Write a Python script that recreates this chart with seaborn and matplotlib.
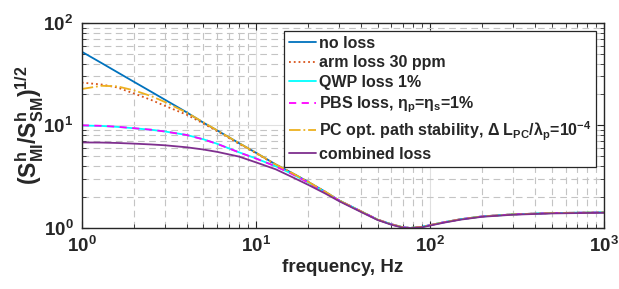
import numpy as np
import pandas as pd
import seaborn as sns
import matplotlib.pyplot as plt
from matplotlib.ticker import LogLocator, FuncFormatter, NullFormatter

# frequency grid (Hz) and curves
freq = [1, 1.3, 1.6, 2, 2.5, 3, 4, 5, 6, 8, 10, 13, 16, 20, 25, 30, 40, 50, 60, 70,
        77, 90, 100, 120, 150, 200, 300, 500, 700, 1000]
tail = [1.85, 1.45, 1.2, 1.08, 1.01, 0.995, 1.02, 1.06, 1.13, 1.21, 1.29, 1.35, 1.39, 1.40, 1.41]

noLoss = [52.3, 40.5, 33.0, 26.5, 21.3, 17.8, 13.4, 10.6, 8.9, 6.7, 5.4, 4.15, 3.45, 2.8, 2.25] + tail
armLoss = [26.1, 25.0, 23.4, 20.4, 17.7, 15.5, 12.7, 10.4, 8.75, 6.6, 5.35, 4.12, 3.43, 2.79, 2.24] + tail
qwpLoss = [9.95, 9.85, 9.65, 9.35, 9.05, 8.7, 8.05, 7.3, 6.6, 5.45, 4.75, 3.98, 3.38, 2.76, 2.22] + tail
pbsLoss = [10.0, 9.88, 9.67, 9.36, 9.05, 8.7, 8.04, 7.28, 6.58, 5.44, 4.74, 3.97, 3.37, 2.76, 2.22] + tail
pcLoss = [22.6, 24.3, 24.0, 21.9, 19.3, 16.9, 13.3, 10.7, 8.9, 6.7, 5.4, 4.15, 3.45, 2.8, 2.25] + tail
combLoss = [6.8, 6.78, 6.72, 6.62, 6.5, 6.38, 6.1, 5.8, 5.5, 4.95, 4.35, 3.72, 3.15, 2.62, 2.16,
            1.82, 1.43, 1.19, 1.07, 1.0, 0.99, 1.01, 1.05, 1.12, 1.2, 1.28, 1.34, 1.38, 1.39, 1.40]

labels = ['no loss', 'arm loss 30 ppm', 'QWP loss 1%', r'PBS loss, $\eta_p$=$\eta_s$=1%',
          r'PC opt. path stability, $\Delta$ $L_{PC}/\lambda_p$=$10^{-4}$', 'combined loss']
series = [noLoss, armLoss, qwpLoss, pbsLoss, pcLoss, combLoss]
colors = ['#0072BD', '#D95319', '#00FFFF', '#FF00FF', '#EDB120', '#7E2F8E']
styles = ['-', ':', '-', (0, (4, 3)), '-.', '-']

sns.set_style('ticks')
plt.rcParams['font.family'] = ['Liberation Sans', 'DejaVu Sans']
plt.rcParams['font.weight'] = 'bold'
plt.rcParams['mathtext.fontset'] = 'custom'
plt.rcParams['mathtext.rm'] = 'Liberation Sans'
plt.rcParams['mathtext.bf'] = 'Liberation Sans:bold'
plt.rcParams['mathtext.it'] = 'Liberation Sans:italic'
plt.rcParams['mathtext.default'] = 'bf'

fig = plt.figure(figsize=(6.19, 2.89), dpi=100)
ax = fig.add_axes([0.132, 0.212, 0.844, 0.709])

for vals, lab, col, ls in zip(series, labels, colors, styles):
    sns.lineplot(x=freq, y=vals, ax=ax, color=col, linestyle=ls, linewidth=1.3, label=lab)

ax.set_xscale('log')
ax.set_yscale('log')
ax.set_xlim(1, 1000)
ax.set_ylim(1, 100)

ax.xaxis.set_major_locator(LogLocator(base=10, numticks=10))
ax.yaxis.set_major_locator(LogLocator(base=10, numticks=10))
ax.xaxis.set_minor_locator(LogLocator(base=10, subs=np.arange(2, 10), numticks=20))
ax.yaxis.set_minor_locator(LogLocator(base=10, subs=np.arange(2, 10), numticks=20))
fmt = FuncFormatter(lambda v, p: r'$\mathbf{10^{%d}}$' % int(round(np.log10(v))))
ax.xaxis.set_major_formatter(fmt)
ax.yaxis.set_major_formatter(fmt)
ax.xaxis.set_minor_formatter(NullFormatter())
ax.yaxis.set_minor_formatter(NullFormatter())

ax.grid(True, which='major', color='#e0e0e0', linestyle='-', linewidth=0.8)
ax.grid(True, which='minor', color='#c4c4c4', linestyle=(0, (6, 4)), linewidth=0.8)
ax.set_axisbelow(True)

ax.tick_params(which='both', direction='in', top=True, right=True, color='#262626')
ax.tick_params(which='major', length=5, width=0.8, labelsize=13.5, pad=6)
ax.tick_params(which='minor', length=3, width=0.6)
for sp in ax.spines.values():
    sp.set_color('#262626')
    sp.set_linewidth(1.0)

ax.set_xlabel('frequency, Hz', fontsize=13.5, fontweight='bold', labelpad=2)
ax.set_ylabel(r'$\mathbf{(S^h_{MI}/S^h_{SM})^{1/2}}$', fontsize=16.5, labelpad=-2)

leg = ax.legend(loc='upper right', bbox_to_anchor=(0.985, 0.96), borderaxespad=0,
                prop={'size': 11.5, 'weight': 'bold'}, frameon=True, fancybox=False,
                framealpha=1, edgecolor='#262626', handlelength=1.7, handletextpad=0.2,
                labelspacing=0.28, borderpad=0.3)
leg.get_frame().set_linewidth(0.9)

plt.savefig('out.png', dpi=100)
